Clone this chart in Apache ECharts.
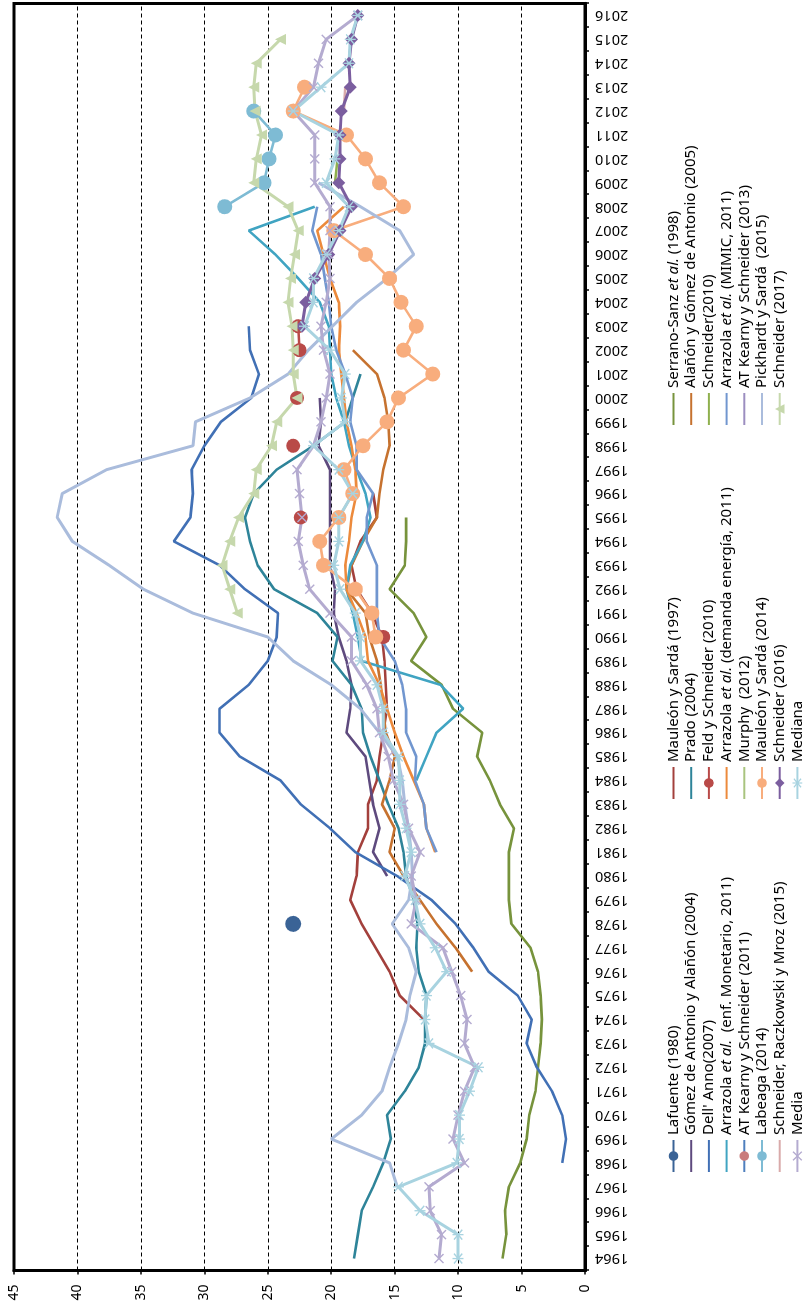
<!DOCTYPE html>
<html>
<head>
<meta charset="utf-8">
<script src="https://cdn.jsdelivr.net/npm/echarts@6/dist/echarts.min.js"></script>
<style>
  html, body { margin: 0; padding: 0; background: #fff; width: 803px; height: 1308px; overflow: hidden; }
  /* the chart is drawn landscape, then turned a quarter turn like the original figure */
  #chart-container {
    position: absolute; left: 0; top: 0; width: 1308px; height: 840px;
    transform-origin: 0 0; transform: translateY(1308px) rotate(-90deg);
  }
</style>
</head>
<body>
<div id="chart-container"></div>
<script>
const firstYear = 1964;
const years = [];
for (let y = 1964; y <= 2016; y++) years.push(String(y));
const valueTicks = [0, 5, 10, 15, 20, 25, 30, 35, 40, 45];

// each list starts at the year given next to it
const lafuente = [23.0];                       // 1978
const mauleon1997 = [12.7, 14.6, 15.4, 16.5, 17.6, 18.5, 18.0, 17.9, 17.1, 17.1, 16.4, 16.2, 15.9, 15.6, 15.7, 15.8, 16.0, 16.8, 18.0, 18.4, 17.7, 16.4, 16.7]; // 1974
const serranoSanz = [6.5, 6.2, 6.3, 6.0, 5.1, 4.6, 4.4, 3.9, 3.7, 3.5, 3.4, 3.5, 3.7, 4.3, 5.8, 6.0, 6.0, 6.0, 5.6, 6.7, 7.5, 8.5, 8.1, 10.4, 11.3, 13.7, 12.5, 13.5, 15.4, 14.2, 14.1, 14.1]; // 1964
const gomezAlanon = [15.6, 16.7, 16.2, 16.7, 17.0, 17.3, 18.8, 18.5, 18.4, 18.8, 19.4, 19.8, 19.7, 20.1, 20.1, 20.1, 20.1, 20.1, 21.0, 20.8, 20.9]; // 1980
const prado = [18.2, 17.9, 17.6, 16.7, 15.9, 15.3, 15.6, 14.2, 13.1, 12.6, 12.6, 12.5, 13.1, 13.3, 13.2, 13.5, 14.1, 14.3, 14.7, 15.5, 16.2, 16.9, 17.5, 17.6, 18.4, 19.9, 19.5, 21.1, 24.5, 25.8, 26.4, 26.8, 26.1, 24.3, 21.4, 18.9, 18.3, 17.7]; // 1964
const alanonGomez = [8.9, 10.2, 11.7, 13.0, 14.3, 15.4, 15.0, 16.0, 15.4, 15.0, 15.7, 15.9, 16.1, 16.4, 17.0, 17.3, 18.8, 18.4, 17.5, 16.4, 16.2, 15.9, 15.4, 15.5, 15.8, 16.4, 18.3]; // 1976
const dellAnno = [1.8, 1.5, 1.8, 2.6, 3.8, 4.6, 4.2, 5.3, 7.6, 8.8, 10.2, 12.1, 14.8, 18.1, 20.1, 22.4, 24.0, 27.2, 28.8, 28.8, 26.5, 25.0, 24.3, 24.2, 26.8, 28.8, 32.4, 31.1, 30.9, 31.0, 30.0, 28.7, 26.3, 25.7, 26.4, 26.5]; // 1968
const feldSchneider = [15.9, null, null, null, null, 22.4, null, null, 23.0, null, 22.7, null, 22.5, 22.6]; // 1990
const schneider2010 = [19.7, 19.5];            // 2009
const arrazolaMonetario = [13.3, 12.5, 11.7, 9.6, 11.4, 17.6, 17.9, 18.3, 18.8, 18.5, 17.5, 16.9, 17.3, 18.0, 18.6, 19.0, 19.6, 20.0, 20.1, 20.2, 20.9, 22.6, 24.4, 26.5, 21.3]; // 1984
const arrazolaEnergia = [11.8, 12.5, 12.7, 13.5, 14.3, 15.0, 15.6, 16.2, 17.1, 17.3, 18.0, 18.8, 18.9, 18.6, 18.4, 18.0, 18.1, 18.4, 18.8, 19.0, 19.2, 19.4, 19.3, 19.4, 20.1, 20.6, 21.1, 19.0]; // 1981
const arrazolaMimic = [11.7, 12.5, 12.7, 13.4, 13.3, 14.1, 14.1, 14.4, 15.0, 16.2, 16.4, 16.4, 16.4, 17.2, 17.2, 16.7, 18.0, 18.0, 18.5, 18.3, 18.9, 19.6, 20.0, 20.2, 20.5, 20.8, 21.5, 21.1]; // 1981
const kearny2011 = [];
const murphy = [];
const kearny2013 = [];
const labeaga = [28.4, 25.3, 24.9, 24.4, 26.1]; // 2008
const mauleon2014 = [16.5, 16.8, 18.1, 20.6, 20.9, 19.4, 18.3, 19.0, 17.5, 15.6, 14.7, 12.0, 14.3, 13.3, 14.5, 15.4, 17.3, 19.8, 14.3, 16.2, 17.3, 18.8, 23.0, 22.1]; // 1990
const pickhardt = [14.8, 15.4, 20.0, 17.6, 16.0, 15.4, 14.7, 14.1, 13.8, 13.3, 13.9, 15.2, 13.9, 13.6, 13.7, 13.9, 14.2, 14.4, 14.8, 16.2, 17.7, 20.0, 23.0, 25.0, 30.9, 34.8, 37.5, 40.4, 41.6, 41.2, 37.7, 30.9, 30.7, 26.4, 23.4, 21.8, 19.9, 18.0, 15.6, 13.5, 14.6, 17.7, 21.0]; // 1967
const schneiderRaczkowski = [19.0, 18.9];      // 2012
const schneider2016 = [22.3, 22.0, 21.3, 20.2, 19.3, 18.4, 19.4, 19.3, 19.3, 19.2, 18.5, 18.6, 18.4, 17.9]; // 2003
const schneider2017 = [27.4, 28.0, 28.6, 28.0, 27.3, 26.1, 25.9, 24.7, 24.3, 22.7, 23.0, 23.0, 23.1, 23.4, 23.2, 22.9, 22.6, 23.4, 26.1, 25.9, 25.5, 26.0, 26.1, 25.9, 24.0]; // 1991
const media = [11.5, 11.3, 12.2, 12.3, 9.5, 10.4, 10.0, 9.5, 8.7, 9.5, 9.3, 9.8, 10.5, 11.2, 13.7, 13.3, 13.7, 13.0, 13.9, 14.3, 15.1, 15.5, 16.2, 16.4, 17.2, 18.4, 18.4, 20.1, 21.7, 22.2, 22.6, 22.3, 22.5, 22.7, 21.4, 20.8, 20.4, 20.1, 20.6, 20.8, 20.4, 20.1, 20.2, 20.1, 20.1, 21.3, 21.3, 21.3, 23.0, 21.4, 21.0, 20.4, 17.9]; // 1964
const mediana = [10.0, 10.0, 13.0, 14.7, 10.1, 9.9, 9.9, 9.1, 8.4, 12.3, 12.6, 12.5, 10.9, 11.8, 13.0, 13.4, 14.2, 13.7, 14.1, 14.6, 14.6, 14.7, 15.9, 15.9, 16.4, 17.7, 17.7, 18.1, 19.3, 19.8, 19.4, 19.4, 18.3, 19.4, 21.4, 18.9, 19.2, 18.9, 20.1, 22.1, 21.4, 21.4, 20.4, 19.4, 18.6, 20.4, 19.7, 19.4, 23.0, 20.8, 18.6, 18.5, 17.9]; // 1964

const legendCol1 = ['Lafuente (1980)', 'Gómez de Antonio y Alañón (2004)', "Dell' Anno(2007)", 'Arrazola et al.  (enf. Monetario, 2011)', 'AT Kearny y Schneider (2011)', 'Labeaga (2014)', 'Schneider, Raczkowski y Mroz (2015)', 'Media'];
const legendCol2 = ['Mauleón y Sardá (1997)', 'Prado (2004)', 'Feld y Schneider (2010)', 'Arrazola et al. (demanda energía, 2011)', 'Murphy  (2012)', 'Mauleón y Sardá (2014)', 'Schneider (2016)', 'Mediana'];
const legendCol3 = ['Serrano-Sanz et al. (1998)', 'Alañón y Gómez de Antonio (2005)', 'Schneider(2010)', 'Arrazola et al. (MIMIC, 2011)', 'AT Kearny y Schneider (2013)', 'Pickhardt y Sardá  (2015)', 'Schneider (2017)'];

function pad(start, vals) {
  const out = years.map(() => null);
  vals.forEach((v, i) => { out[start - firstYear + i] = v; });
  return out;
}

const xMark = 'path://M1,0L5,4L9,0L10,1L6,5L10,9L9,10L5,6L1,10L0,9L4,5L0,1Z';
const starMark = 'path://M1,0L5,4L9,0L10,1L6,5L10,9L9,10L5,6L1,10L0,9L4,5L0,1Z M4.4,-1L5.6,-1L5.6,11L4.4,11Z';

const lineOnly = [];
function line(name, color, start, vals, opts) {
  opts = opts || {};
  if (!opts.symbol) lineOnly.push(name);
  return {
    name: name,
    type: 'line',
    data: pad(start, vals),
    symbol: opts.symbol || 'none',
    symbolSize: opts.size || 10,
    showAllSymbol: true,
    connectNulls: false,
    smooth: false,
    animation: false,
    lineStyle: { color: opts.lineColor || color, width: opts.width || 2.6 },
    itemStyle: { color: opts.markColor || color },
    emphasis: { disabled: true }
  };
}

const series = [
  line('Lafuente (1980)', '#3a6396', 1978, lafuente, { symbol: 'circle', size: 16 }),
  line('Mauleón y Sardá (1997)', '#a3403c', 1974, mauleon1997),
  line('Serrano-Sanz et al. (1998)', '#77933c', 1964, serranoSanz),
  line('Gómez de Antonio y Alañón (2004)', '#5e4a7e', 1980, gomezAlanon),
  line('Prado (2004)', '#2e8499', 1964, prado),
  line('Alañón y Gómez de Antonio (2005)', '#c6722f', 1976, alanonGomez),
  line("Dell' Anno(2007)", '#4170b5', 1968, dellAnno),
  line('Feld y Schneider (2010)', '#b94a48', 1990, feldSchneider, { symbol: 'circle', size: 14 }),
  line('Schneider(2010)', '#8fb04e', 2009, schneider2010),
  line('Arrazola et al.  (enf. Monetario, 2011)', '#40a4c2', 1984, arrazolaMonetario),
  line('Arrazola et al. (demanda energía, 2011)', '#ec8a3c', 1981, arrazolaEnergia),
  line('Arrazola et al. (MIMIC, 2011)', '#7196cf', 1981, arrazolaMimic),
  line('AT Kearny y Schneider (2011)', '#4f7fbd', 2011, kearny2011, { symbol: 'circle', size: 12, markColor: '#c97c7c' }),
  line('Murphy  (2012)', '#a9c47f', 2012, murphy),
  line('AT Kearny y Schneider (2013)', '#9c8ec0', 2013, kearny2013),
  line('Labeaga (2014)', '#7ebbd4', 2008, labeaga, { symbol: 'circle', size: 15 }),
  line('Mauleón y Sardá (2014)', '#f8ad7d', 1990, mauleon2014, { symbol: 'circle', size: 15 }),
  line('Pickhardt y Sardá  (2015)', '#aabcdc', 1967, pickhardt, { width: 3 }),
  line('Schneider, Raczkowski y Mroz (2015)', '#d9aaaa', 2012, schneiderRaczkowski),
  line('Schneider (2016)', '#7b5e9f', 2003, schneider2016, { symbol: 'diamond', size: 13, width: 3 }),
  line('Schneider (2017)', '#c6d8ac', 1991, schneider2017, { symbol: 'triangle', size: 11, width: 3 }),
  line('Media', '#b4abd0', 1964, media, { symbol: xMark, size: 10, width: 3 }),
  line('Mediana', '#a8d3e0', 1964, mediana, { symbol: starMark, size: 11, width: 3 })
];

const legendTop = 666;
const legendLefts = [135, 508, 882];
const legends = [legendCol1, legendCol2, legendCol3].map(function (names, k) {
  return {
    orient: 'vertical',
    left: legendLefts[k],
    top: legendTop,
    itemWidth: 32,
    itemHeight: 12,
    itemGap: 2.7,
    selectedMode: false,
    padding: 0,
    data: names.map(function (n) {
      return lineOnly.indexOf(n) >= 0 ? { name: n, itemStyle: { opacity: 0 } } : { name: n };
    }),
    formatter: function (n) { return n.replace('et al.', '{i|et al.}'); },
    textStyle: {
      fontFamily: 'Noto Sans', fontSize: 15, color: '#000',
      rich: { i: { fontFamily: 'Noto Sans', fontSize: 15, fontStyle: 'italic', color: '#000' } }
    }
  };
});

const chartDom = document.getElementById('chart-container');
const myChart = echarts.init(chartDom, null, { renderer: 'canvas' });
const option = {
  animation: false,
  backgroundColor: '#fff',
  grid: { left: 37.5, right: 3.5, top: 14, bottom: 255, show: true, borderColor: '#000', borderWidth: 3, containLabel: false },
  legend: legends,
  xAxis: {
    type: 'category',
    data: years,
    boundaryGap: true,
    axisLine: { lineStyle: { color: '#000', width: 3 } },
    axisTick: { show: true, length: 4, lineStyle: { color: '#000', width: 1.5 } },
    axisLabel: { rotate: 90, interval: 0, margin: 10, fontFamily: 'Noto Sans', fontSize: 14.5, color: '#000' },
    splitLine: { show: false }
  },
  yAxis: {
    type: 'value',
    min: valueTicks[0],
    max: valueTicks[valueTicks.length - 1],
    interval: 5,
    axisLine: { show: true, lineStyle: { color: '#000', width: 3 } },
    axisTick: { show: true, length: 4, lineStyle: { color: '#000', width: 1.5 } },
    axisLabel: { margin: 14, fontFamily: 'Noto Sans', fontSize: 14, color: '#000' },
    splitLine: { show: true, lineStyle: { color: '#000', width: 1, type: [4, 3] } }
  },
  series: series
};
myChart.setOption(option);
</script>
</body>
</html>
